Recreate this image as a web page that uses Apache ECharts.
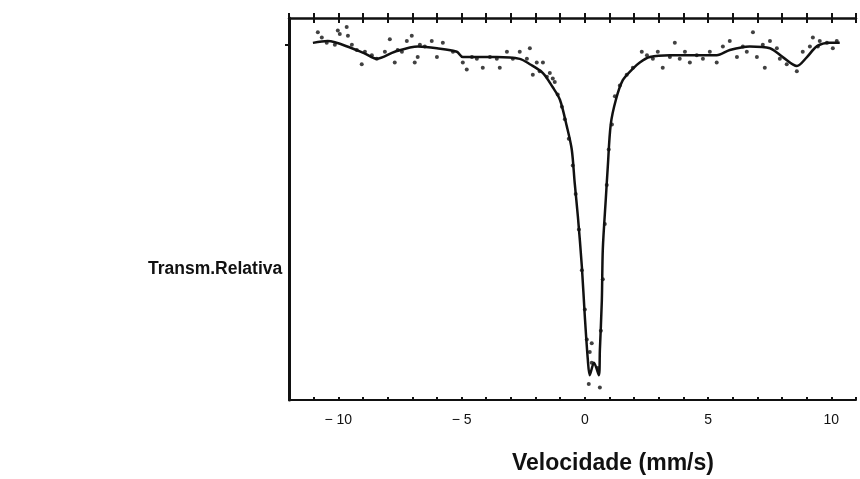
<!DOCTYPE html>
<html>
<head>
<meta charset="utf-8">
<script src="https://cdn.jsdelivr.net/npm/echarts@6/dist/echarts.min.js"></script>
<style>
  html, body { margin: 0; padding: 0; background: #fff; }
  #chart { width: 860px; height: 479px; }
</style>
</head>
<body>
<div id="chart"></div>
<script>
// velocidade (mm/s) e transmissão relativa dos pontos medidos
const pointX = [
  -10.83, -10.67, -10.47, -10.14, -10.02, -9.94, -9.66, -9.61, -9.45, -9.25, -9.05, -8.92,
  -8.64, -8.44, -8.11, -7.91, -7.71, -7.59, -7.42, -7.22, -7.02, -6.90, -6.78, -6.69,
  -6.49, -6.21, -6.00, -5.76, -5.35, -4.95, -4.79, -4.58, -4.38, -4.14, -3.85, -3.57,
  -3.45, -3.16, -2.92, -2.64, -2.35, -2.23, -2.11, -1.95, -1.83, -1.70, -1.54, -1.42,
  -1.30, -1.22, -1.10, -0.93, -0.81, -0.65, -0.49, -0.37, -0.24, -0.12, 0.00, 0.08,
  0.16, 0.20, 0.28, 0.28, 0.61, 0.53, 0.65, 0.73, 0.81, 0.89, 0.97, 1.10,
  1.22, 1.42, 1.70, 1.95, 2.31, 2.52, 2.76, 2.96, 3.16, 3.45, 3.65, 3.85,
  4.06, 4.26, 4.54, 4.79, 5.07, 5.35, 5.60, 5.88, 6.17, 6.41, 6.57, 6.82,
  6.98, 7.22, 7.30, 7.51, 7.79, 7.91, 8.19, 8.60, 8.84, 9.13, 9.25, 9.45,
  9.53, 9.82, 10.06, 10.22
];
const pointY = [
  1.007, 1.004, 1.001, 1.000, 1.008, 1.006, 1.010, 1.005, 1.000, 0.997, 0.989, 0.996,
  0.994, 0.992, 0.996, 1.003, 0.990, 0.997, 0.996, 1.002, 1.005, 0.990, 0.993, 1.000,
  0.999, 1.002, 0.993, 1.001, 0.996, 0.990, 0.986, 0.993, 0.992, 0.987, 0.993, 0.992,
  0.987, 0.996, 0.992, 0.996, 0.992, 0.998, 0.983, 0.990, 0.985, 0.990, 0.982, 0.984,
  0.981, 0.979, 0.972, 0.965, 0.958, 0.947, 0.932, 0.916, 0.896, 0.873, 0.851, 0.834,
  0.809, 0.827, 0.832, 0.821, 0.807, 0.818, 0.839, 0.868, 0.899, 0.921, 0.941, 0.955,
  0.971, 0.977, 0.983, 0.987, 0.996, 0.994, 0.992, 0.996, 0.987, 0.993, 1.001, 0.992,
  0.996, 0.990, 0.994, 0.992, 0.996, 0.990, 0.999, 1.002, 0.993, 0.999, 0.996, 1.007,
  0.993, 1.000, 0.987, 1.002, 0.998, 0.992, 0.989, 0.985, 0.996, 0.999, 1.004, 0.999,
  1.002, 1.001, 0.998, 1.002
];

// curva ajustada
const fitX = [
  -11.03, -10.43, -9.45, -8.92, -8.44, -7.71, -6.77, -6.00, -5.19, -4.95, -4.26, -3.57,
  -2.64, -2.23, -1.70, -1.30, -1.01, -0.73, -0.53, -0.41, -0.28, -0.12, 0.00, 0.12,
  0.20, 0.37, 0.57, 0.61, 0.69, 0.73, 0.85, 0.93, 1.05, 1.26, 1.54, 1.91,
  2.23, 2.64, 3.45, 4.26, 5.35, 5.88, 6.69, 7.51, 8.03, 8.60, 9.01, 9.41,
  9.94, 10.34
];
const fitY = [
  1.001, 1.002, 0.998, 0.995, 0.992, 0.996, 0.999, 0.998, 0.996, 0.993, 0.993, 0.993,
  0.992, 0.989, 0.984, 0.976, 0.969, 0.954, 0.941, 0.922, 0.903, 0.875, 0.847, 0.823,
  0.814, 0.821, 0.814, 0.828, 0.856, 0.885, 0.913, 0.931, 0.955, 0.969, 0.980, 0.986,
  0.990, 0.993, 0.994, 0.994, 0.994, 0.997, 0.999, 0.998, 0.993, 0.988, 0.993, 0.999,
  1.001, 1.001
];

const tickValues = [-10, -5, 0, 5, 10];
const tickLabels = ['\u2212 10', '\u2212 5', '0', '5', '10'];

const chart = echarts.init(document.getElementById('chart'));

const FONT = '"Liberation Sans", Arial, sans-serif';

const option = {
  backgroundColor: '#fff',
  animation: false,
  grid: { left: 289, right: 4, top: 18, bottom: 79 },
  xAxis: [
    {
      type: 'value', position: 'bottom', min: -12, max: 11, interval: 1,
      axisLine: { onZero: false, lineStyle: { color: '#111', width: 2 } },
      axisTick: { inside: true, length: 3, lineStyle: { color: '#111', width: 2 } },
      axisLabel: {
        customValues: tickValues,
        formatter: v => tickLabels[tickValues.indexOf(v)],
        color: '#111', fontFamily: FONT, fontSize: 14, margin: 13
      },
      splitLine: { show: false }
    },
    {
      type: 'value', position: 'top', min: -12, max: 11, interval: 1,
      axisLine: { onZero: false, lineStyle: { color: '#111', width: 2.5 } },
      axisTick: { inside: true, length: 5, lineStyle: { color: '#111', width: 2 } },
      axisLabel: { show: false },
      splitLine: { show: false }
    },
    {
      type: 'value', position: 'top', min: -12, max: 11, interval: 1,
      axisLine: { show: false, onZero: false },
      axisTick: { inside: false, length: 5, lineStyle: { color: '#111', width: 2 } },
      axisLabel: { show: false },
      splitLine: { show: false }
    }
  ],
  yAxis: {
    type: 'value', min: 0.80, max: 1.015,
    axisLine: { show: true, onZero: false, lineStyle: { color: '#111', width: 3 } },
    axisTick: { show: true, customValues: [1.0], length: 4, lineStyle: { color: '#111', width: 2 } },
    axisLabel: { show: false },
    splitLine: { show: false }
  },
  graphic: [
    {
      type: 'text', left: 148, top: 260,
      style: { text: 'Transm.Relativa', font: 'bold 17.5px ' + FONT, fill: '#111' }
    },
    {
      type: 'text', left: 512, top: 452,
      style: { text: 'Velocidade (mm/s)', font: 'bold 23px ' + FONT, fill: '#111' }
    }
  ],
  series: [
    {
      type: 'line',
      data: fitX.map((x, i) => [x, fitY[i]]),
      showSymbol: false, smooth: 0.3,
      lineStyle: { color: '#111', width: 2.5 }
    },
    {
      type: 'scatter',
      data: pointX.map((x, i) => [x, pointY[i]]),
      symbolSize: 4,
      itemStyle: { color: '#111' }
    }
  ]
};

chart.setOption(option);
</script>
</body>
</html>
